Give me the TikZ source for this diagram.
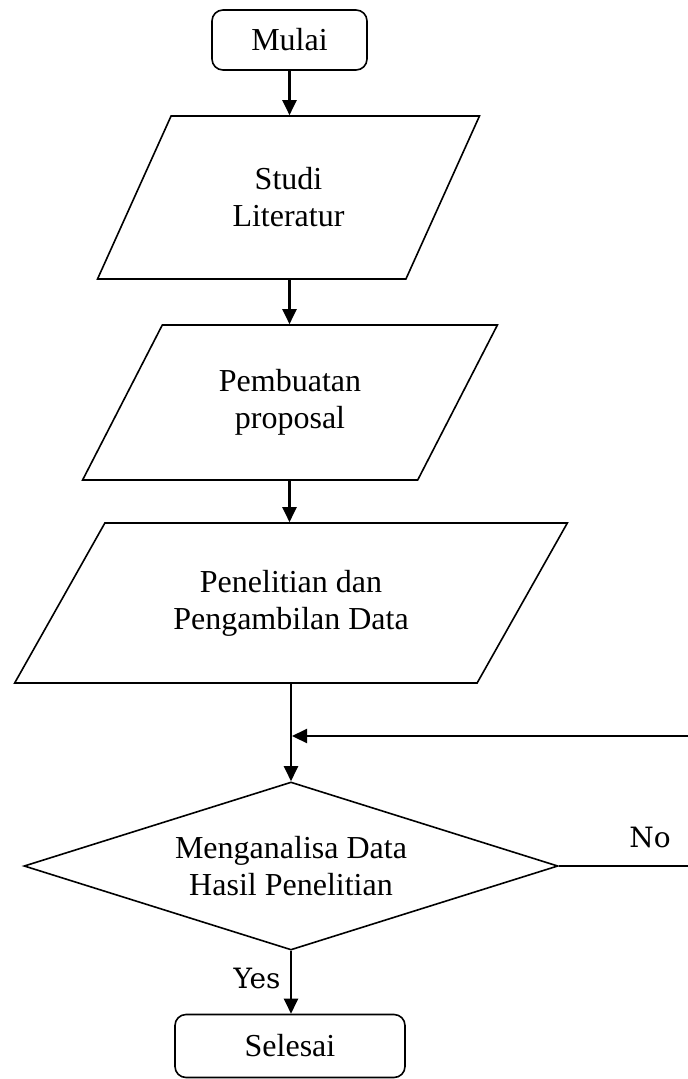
\documentclass[tikz,border=0pt]{standalone}
\usepackage{fontspec}
\setmainfont{Liberation Serif}
\newfontfamily\labelfont{DejaVu Serif}
\usetikzlibrary{shapes.geometric,arrows.meta}
\begin{document}
\begin{tikzpicture}[x=1pt,y=-1pt,
  txt/.style={font=\fontsize{32}{37}\selectfont, align=center},
  terminal/.style={draw, line width=1.6pt, rounded corners=11pt, inner sep=0pt, txt},
  iobox/.style={draw, line width=1.6pt, trapezium, trapezium stretches=true, inner sep=0pt, txt},
  decision/.style={draw, line width=1.6pt, diamond, inner sep=0pt, txt},
  flow/.style={line width=2.2pt, -{Triangle[width=14pt,length=15pt]}},
  plain/.style={line width=2pt},
  lbl/.style={font=\labelfont\fontsize{28}{32}\selectfont, inner sep=0pt},
]
\useasboundingbox (0,0) rectangle (688,1079);

\node[terminal, minimum width=155pt, minimum height=60pt] (mulai) at (289.5,40) {Mulai};
\node[iobox, minimum width=383pt, minimum height=163pt,
      trapezium left angle=59.5, trapezium right angle=120.5] (studi) at (288.5,197.5) {Studi\\Literatur};
\node[iobox, minimum width=416pt, minimum height=155pt,
      trapezium left angle=56.1, trapezium right angle=123.9] (pemb) at (290,402.5) {Pembuatan\\proposal};
\node[iobox, minimum width=554pt, minimum height=160pt,
      trapezium left angle=49.2, trapezium right angle=130.8] (pen) at (291,603) {Penelitian dan\\Pengambilan Data};
\node[decision, aspect=3.18, minimum width=534pt, minimum height=168pt] (dec) at (291,866) {Menganalisa Data\\Hasil Penelitian};
\node[terminal, minimum width=230pt, minimum height=63pt] (selesai) at (290,1046) {Selesai};

\coordinate (fbR) at (688,736);
\coordinate (noR) at (688,866);

\draw[flow] (mulai.south) -- (mulai.south |- studi.north);
\draw[flow] (mulai.south |- studi.south) -- (mulai.south |- pemb.north);
\draw[flow] (mulai.south |- pemb.south) -- (mulai.south |- pen.north);
\draw[flow] (dec.north |- pen.south) -- (dec.north);
\draw[flow] (fbR) -- ([xshift=1pt]dec.north |- fbR);
\draw[plain] (dec.east) -- (noR);
\draw[flow] (dec.south) -- (dec.south |- selesai.north);

\node[lbl] (no) at (650,837) {No};
\node[lbl] (yes) at (257,978) {Yes};
\end{tikzpicture}
\end{document}
